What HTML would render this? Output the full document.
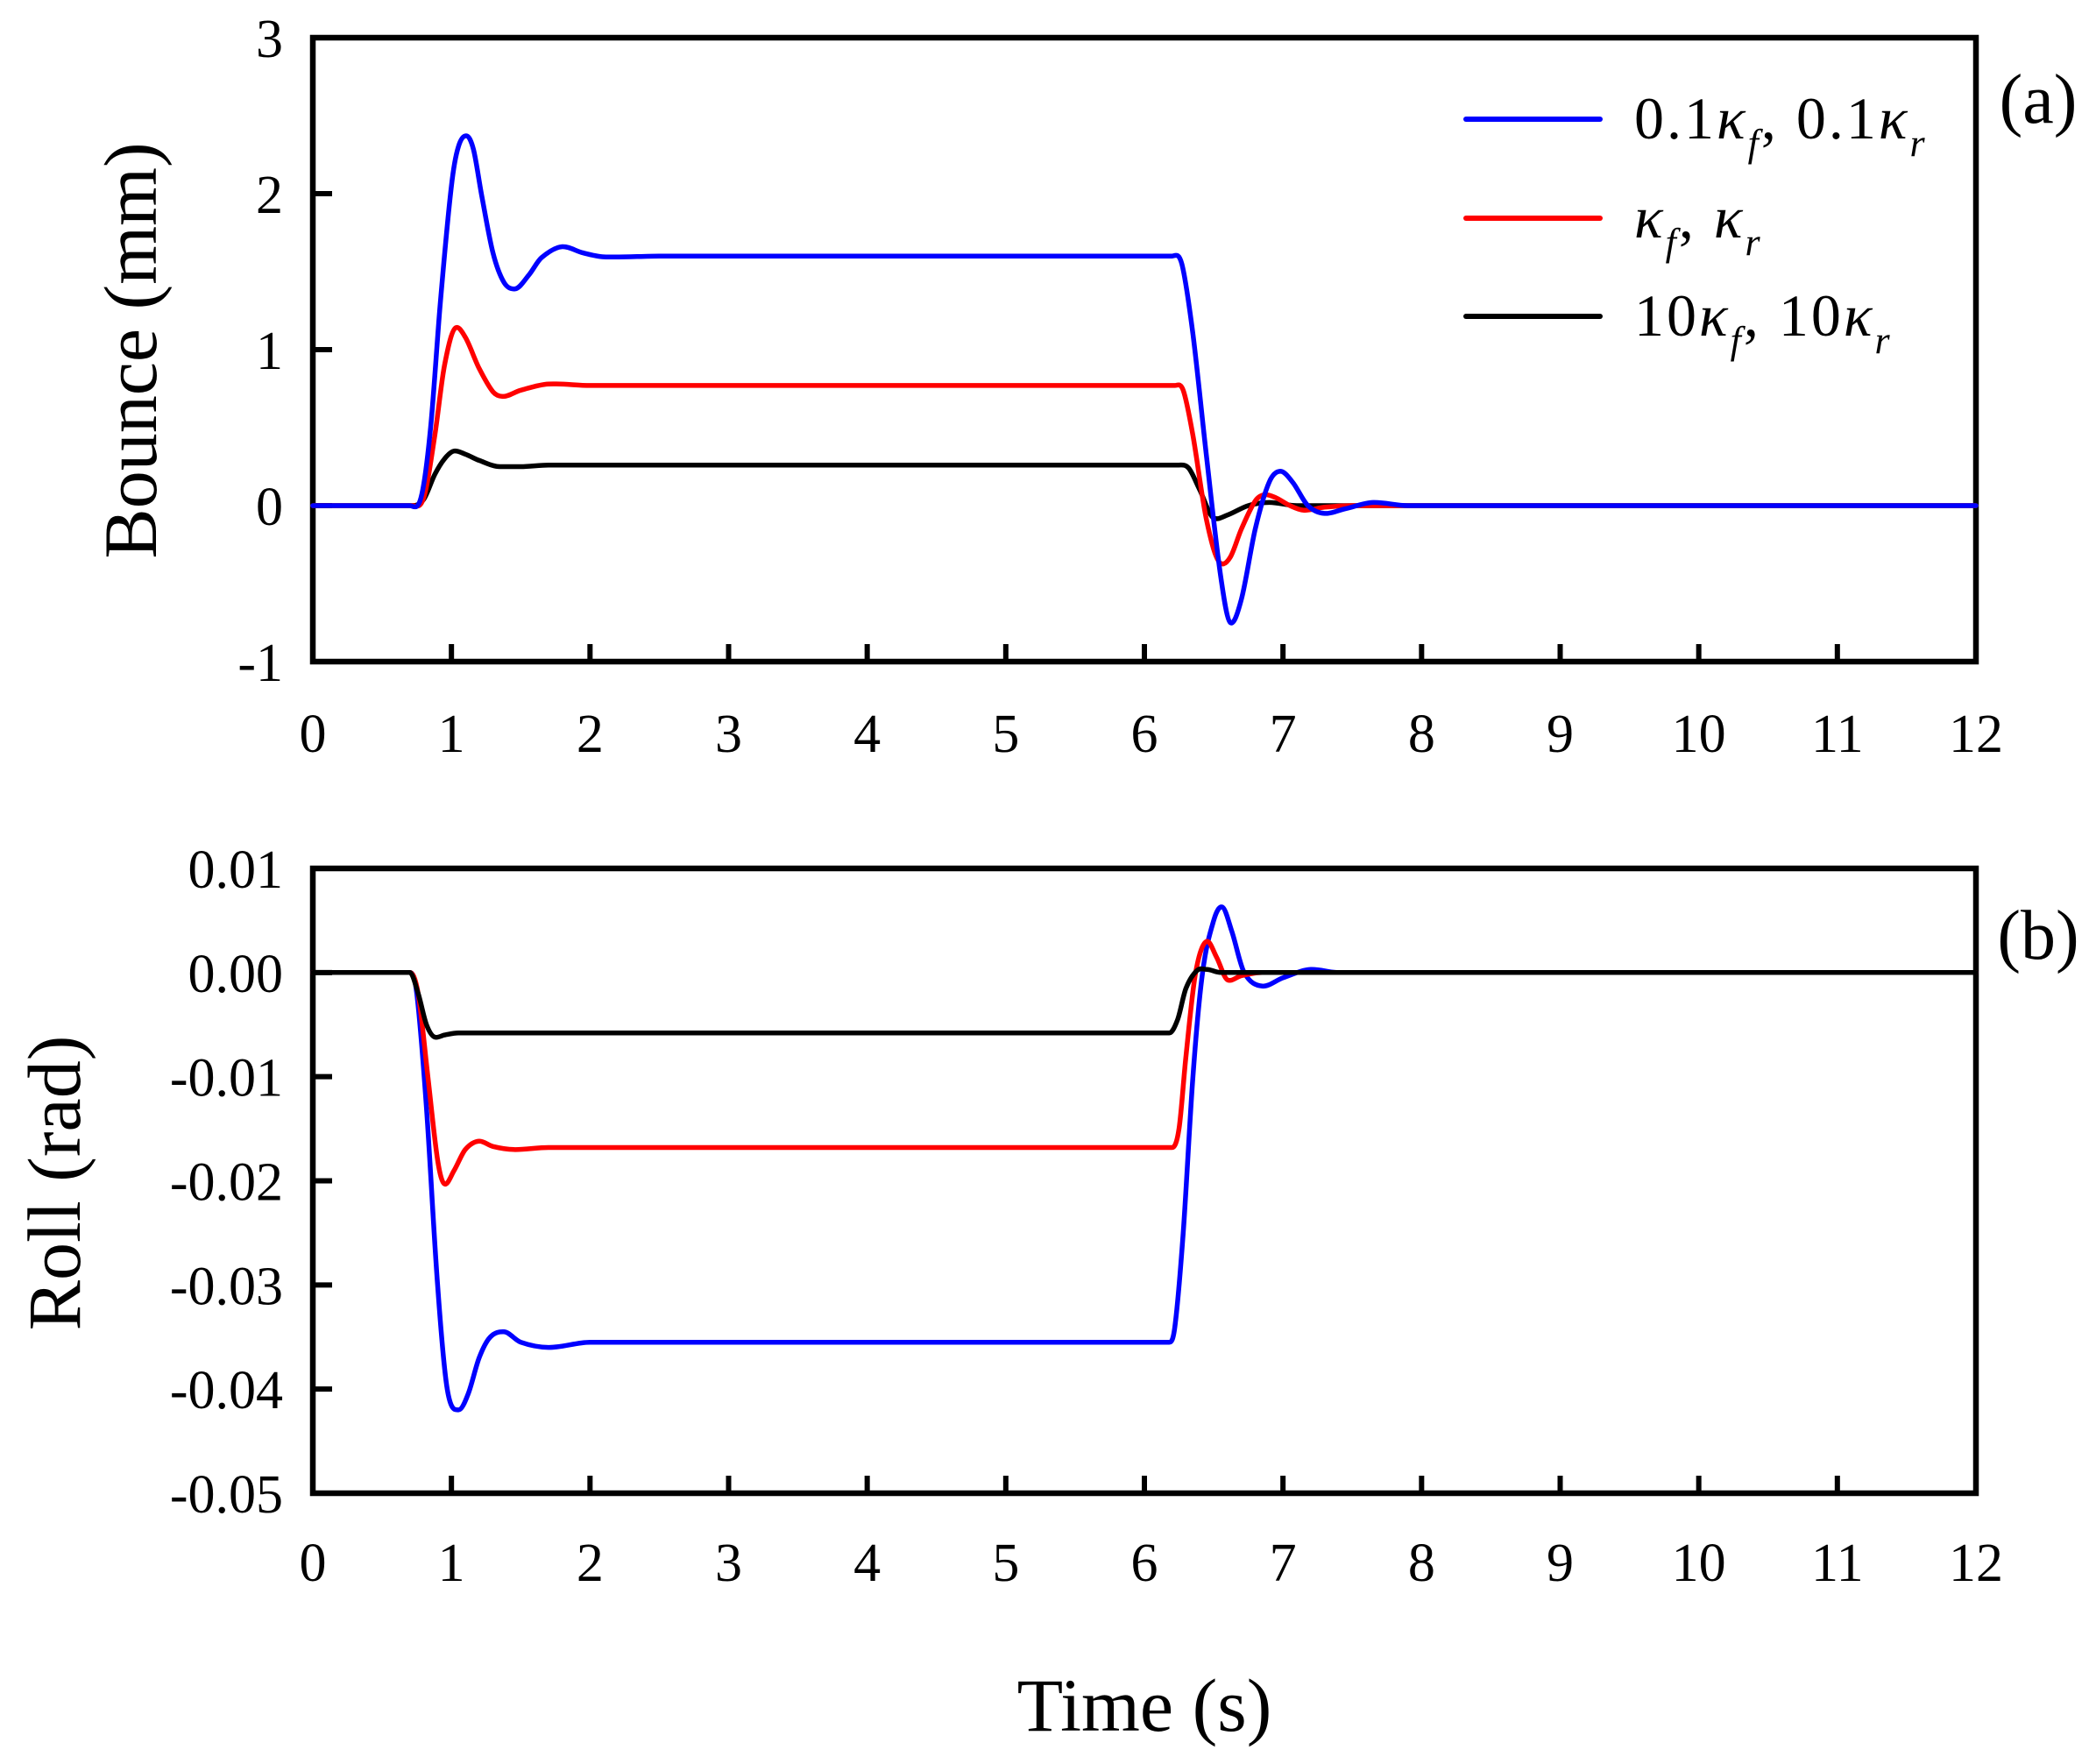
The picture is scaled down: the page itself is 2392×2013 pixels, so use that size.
<!DOCTYPE html>
<html><head><meta charset="utf-8"><style>
html,body{margin:0;padding:0;background:#fff;}
svg{display:block;font-family:"Liberation Serif",serif;}
</style></head><body>
<svg id="chart" width="2392" height="2013" viewBox="0 0 2392 2013" xmlns="http://www.w3.org/2000/svg">
<rect width="2392" height="2013" fill="#fff"/>
<g id="layer"></g>
</svg>
<script>
// ---- data ----
const xTicks = [0,1,2,3,4,5,6,7,8,9,10,11,12];
const bounceTicks = [-1,0,1,2,3];
const rollTicks = [0.01,0.00,-0.01,-0.02,-0.03,-0.04,-0.05];
const rollTickLabels = ["0.01","0.00","-0.01","-0.02","-0.03","-0.04","-0.05"];
const seriesNames = ["0.1κf, 0.1κr","κf, κr","10κf, 10κr"];

// [time (s), value] pairs
const bounceBlue = [[0,0],[0.7,0],[0.78,0.05],[0.85,0.5],[0.92,1.3],[1.0,2.05],[1.05,2.3],[1.11,2.37],[1.16,2.28],[1.22,1.98],[1.3,1.62],[1.38,1.43],[1.46,1.39],[1.56,1.48],[1.65,1.59],[1.8,1.66],[1.95,1.62],[2.1,1.595],[2.5,1.6],[6.2,1.6],[6.27,1.55],[6.35,1.1],[6.45,0.3],[6.55,-0.45],[6.62,-0.75],[6.7,-0.6],[6.8,-0.15],[6.9,0.15],[6.98,0.22],[7.07,0.15],[7.18,0.0],[7.3,-0.05],[7.45,-0.02],[7.65,0.02],[7.9,0],[12,0]];
const bounceRed = [[0,0],[0.72,0],[0.8,0.05],[0.88,0.45],[0.95,0.9],[1.03,1.14],[1.1,1.08],[1.2,0.88],[1.3,0.73],[1.37,0.7],[1.5,0.74],[1.7,0.78],[2.0,0.77],[6.22,0.77],[6.28,0.74],[6.35,0.45],[6.45,-0.1],[6.55,-0.37],[6.62,-0.33],[6.7,-0.15],[6.8,0.03],[6.87,0.07],[6.95,0.05],[7.05,0.0],[7.15,-0.03],[7.3,-0.01],[7.5,0],[12,0]];
const bounceBlack = [[0,0],[0.72,0],[0.8,0.04],[0.88,0.2],[0.95,0.3],[1.02,0.35],[1.1,0.33],[1.2,0.29],[1.35,0.25],[1.5,0.25],[1.7,0.26],[2.0,0.26],[6.25,0.26],[6.32,0.24],[6.4,0.1],[6.5,-0.08],[6.6,-0.06],[6.75,0.0],[6.9,0.02],[7.1,0],[12,0]];

const rollBlue = [[0,0],[0.7,0],[0.75,-0.002],[0.82,-0.013],[0.9,-0.03],[0.97,-0.04],[1.05,-0.042],[1.12,-0.0405],[1.2,-0.037],[1.28,-0.035],[1.38,-0.0345],[1.5,-0.0355],[1.7,-0.036],[2.0,-0.0355],[6.18,-0.0355],[6.22,-0.034],[6.28,-0.025],[6.35,-0.01],[6.42,0.0],[6.5,0.005],[6.56,0.0063],[6.63,0.004],[6.72,0.0],[6.85,-0.0013],[7.0,-0.0005],[7.2,0.0003],[7.4,0],[12,0]];
const rollRed = [[0,0],[0.7,0],[0.76,-0.002],[0.83,-0.01],[0.9,-0.018],[0.95,-0.0203],[1.02,-0.019],[1.1,-0.017],[1.2,-0.0162],[1.3,-0.0167],[1.45,-0.017],[1.7,-0.0168],[6.2,-0.0168],[6.25,-0.015],[6.3,-0.008],[6.37,0.0],[6.45,0.003],[6.52,0.0015],[6.6,-0.0007],[6.7,-0.0003],[6.85,0],[12,0]];
const rollBlack = [[0,0],[0.7,0],[0.76,-0.002],[0.82,-0.005],[0.88,-0.0062],[0.95,-0.006],[1.05,-0.0058],[1.2,-0.0058],[6.18,-0.0058],[6.24,-0.0045],[6.3,-0.0015],[6.38,0.0002],[6.45,0.0003],[6.55,0],[6.7,0],[12,0]];

// ---- layout ----
const NS = "http://www.w3.org/2000/svg";
const layer = document.getElementById('layer');
const X0 = 357, X1 = 2255;
const xScale = t => X0 + t / 12 * (X1 - X0);
const topP = {y0: 43, y1: 755, min: -1, max: 3};
const botP = {y0: 991, y1: 1704, min: -0.05, max: 0.01};
const yScale = (p, v) => p.y1 - (v - p.min) / (p.max - p.min) * (p.y1 - p.y0);

function el(tag, attrs, parent) {
  const e = document.createElementNS(NS, tag);
  for (const k in attrs) e.setAttribute(k, attrs[k]);
  (parent || layer).appendChild(e);
  return e;
}
function txt(s, x, y, size, anchor, parent) {
  const t = el('text', {x: x, y: y, 'font-size': size, 'text-anchor': anchor || 'middle', fill: '#000'}, parent);
  t.textContent = s;
  return t;
}
// cubic Hermite with x-monotone control points (no loops)
function smoothPath(pts) {
  const n = pts.length;
  const m = pts.map((p, i) => {
    const a = pts[Math.max(0, i - 1)], b = pts[Math.min(n - 1, i + 1)];
    if (i === 0 || i === n - 1) return 0;
    const s1 = (p[1] - a[1]) / (p[0] - a[0]), s2 = (b[1] - p[1]) / (b[0] - p[0]);
    if (s1 * s2 <= 0) return (Math.abs(s1) < 1e-9 || Math.abs(s2) < 1e-9) ? 0 : (s1 + s2) / 2 * 0.5;
    return (b[1] - a[1]) / (b[0] - a[0]);
  });
  let d = 'M' + pts[0][0].toFixed(1) + ',' + pts[0][1].toFixed(1);
  for (let i = 0; i < n - 1; i++) {
    const p1 = pts[i], p2 = pts[i + 1], dx = (p2[0] - p1[0]) / 3;
    const c1x = p1[0] + dx, c1y = p1[1] + m[i] * dx;
    const c2x = p2[0] - dx, c2y = p2[1] - m[i + 1] * dx;
    d += 'C' + c1x.toFixed(1) + ',' + c1y.toFixed(1) + ' ' + c2x.toFixed(1) + ',' + c2y.toFixed(1) + ' ' + p2[0].toFixed(1) + ',' + p2[1].toFixed(1);
  }
  return d;
}
function drawSeries(p, data, color, name) {
  const pts = data.map(d => [xScale(d[0]), yScale(p, d[1])]);
  const path = el('path', {d: smoothPath(pts), fill: 'none', stroke: color, 'stroke-width': 5.5, 'stroke-linejoin': 'round', 'stroke-linecap': 'round'});
  
  
}
function drawFrame(p, name) {
  const g = el('g', {});
  
  
  el('rect', {x: X0, y: p.y0, width: X1 - X0, height: p.y1 - p.y0, fill: 'none', stroke: '#000', 'stroke-width': 6.5}, g);
  xTicks.forEach(t => {
    if (t > 0 && t < 12) el('line', {x1: xScale(t), x2: xScale(t), y1: p.y1, y2: p.y1 - 20, stroke: '#000', 'stroke-width': 6}, g);
  });
  return g;
}

// ---- top plot ----
const gTop = drawFrame(topP, 'bounce-plot-frame');
bounceTicks.forEach(v => {
  const y = yScale(topP, v);
  if (v > topP.min && v < topP.max) el('line', {x1: X0, x2: X0 + 22, y1: y, y2: y, stroke: '#000', 'stroke-width': 6}, gTop);
  const t = txt(String(v), 323, y + 22, 62, 'end');
  
  
});
xTicks.forEach(v => {
  const t = txt(String(v), xScale(v), 858, 62);
  
  
});
drawSeries(topP, bounceBlack, '#000', 'bounce-series-10k');
drawSeries(topP, bounceRed, '#f00', 'bounce-series-1k');
drawSeries(topP, bounceBlue, '#00f', 'bounce-series-0.1k');

// ---- bottom plot ----
const gBot = drawFrame(botP, 'roll-plot-frame');
rollTicks.forEach((v, i) => {
  const y = yScale(botP, v);
  if (i > 0 && i < rollTicks.length - 1) el('line', {x1: X0, x2: X0 + 22, y1: y, y2: y, stroke: '#000', 'stroke-width': 6}, gBot);
  const t = txt(rollTickLabels[i], 323, y + 22, 62, 'end');
  
  
});
xTicks.forEach(v => {
  const t = txt(String(v), xScale(v), 1804, 62);
  
  
});
drawSeries(botP, rollBlue, '#00f', 'roll-series-0.1k');
drawSeries(botP, rollRed, '#f00', 'roll-series-1k');
drawSeries(botP, rollBlack, '#000', 'roll-series-10k');

// ---- titles ----
const yt1 = txt('Bounce (mm)', 0, 0, 86);
yt1.setAttribute('transform', 'translate(178,400) rotate(-90)');


const yt2 = txt('Roll (rad)', 0, 0, 86);
yt2.setAttribute('transform', 'translate(91,1350) rotate(-90)');


const xt = txt('Time (s)', 1306, 1975, 86);


const la = txt('(a)', 2326, 140, 80);


const lb = txt('(b)', 2326, 1094, 80);



// ---- legend ----
const legendColors = ['#00f', '#f00', '#000'];
const legendY = [136, 249, 361];
const legendParts = [
  [['0.1', false], ['κ', true, 'f'], [', 0.1', false], ['κ', true, 'r']],
  [['κ', true, 'f'], [',  ', false], ['κ', true, 'r']],
  [['10', false], ['κ', true, 'f'], [', 10', false], ['κ', true, 'r']]
];
seriesNames.forEach((n, i) => {
  const g = el('g', {});
  
  
  el('line', {x1: 1673, x2: 1826, y1: legendY[i], y2: legendY[i], stroke: legendColors[i], 'stroke-width': 6, 'stroke-linecap': 'round'}, g);
  const t = el('text', {x: 1865, y: legendY[i] + 22, 'font-size': 68, fill: '#000', 'letter-spacing': 3}, g);
  legendParts[i].forEach(p => {
    const s = document.createElementNS(NS, 'tspan');
    s.textContent = p[0];
    if (p[1]) s.setAttribute('font-style', 'italic');
    t.appendChild(s);
    if (p[2]) {
      const sub = document.createElementNS(NS, 'tspan');
      sub.textContent = p[2];
      sub.setAttribute('font-style', 'italic');
      sub.setAttribute('font-size', 44);
      sub.setAttribute('dy', 20);
      t.appendChild(sub);
      const back = document.createElementNS(NS, 'tspan');
      back.setAttribute('dy', -20);
      back.textContent = '\u200b';
      t.appendChild(back);
    }
  });
});
</script>
</body></html>
